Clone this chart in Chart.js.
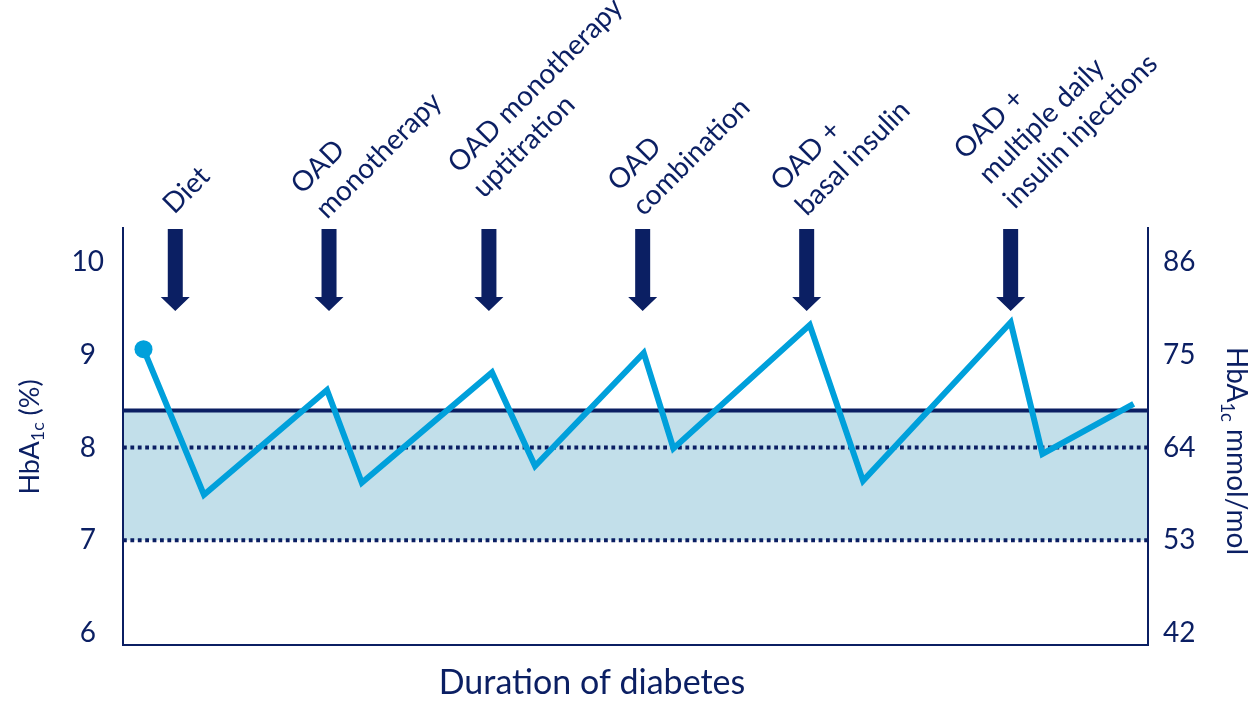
<!DOCTYPE html>
<html>
<head>
<meta charset="utf-8">
<script src="https://cdn.jsdelivr.net/npm/chart.js@4.4.1/dist/chart.umd.min.js"></script>
<style>
  html, body { margin: 0; padding: 0; background: #ffffff; }
  #wrap { width: 1256px; height: 702px; position: relative; }
</style>
</head>
<body>
<div id="wrap"><canvas id="c" width="1256" height="702"></canvas></div>
<script>
// HbA1c over the duration of type 2 diabetes, with each treatment step marked
const hba1cTicks = [6, 7, 8, 9, 10];
const mmolTicks = ['42', '53', '64', '75', '86'];
const timeX = [2.0, 7.9, 19.9, 23.3, 36.0, 40.2, 50.8, 53.7, 67.0, 72.2, 86.6, 89.7, 98.6];
const hba1cValues = [9.06, 7.49, 8.62, 7.62, 8.81, 7.80, 9.02, 7.99, 9.32, 7.64, 9.35, 7.93, 8.47];
const treatmentSteps = [
  ['Diet'],
  ['OAD', 'monotherapy'],
  ['OAD monotherapy', 'uptitration'],
  ['OAD', 'combination'],
  ['OAD +', 'basal insulin'],
  ['OAD +', 'multiple daily', 'insulin injections']
];
const stepX = [5.1, 20.1, 35.7, 50.7, 66.7, 86.6];
const upperThreshold = 8.4;
const targetLevels = [7, 8];
const xRange = [0, 100];

// styling / layout
const NAVY = '#0b1f63';
const CYAN = '#00a0db';
const BAND = '#c2dfea';
const FONT = 'Lato, "Open Sans", sans-serif';
const Y_MIN = 5.8706, Y_MAX = 10.3666;
const LABEL_SIZE = 28, LABEL_LINE = 35;
// offset of each step label (last line baseline start) from its arrow
const labelAnchors = [[-1, 215], [-2, 220], [-5, 199], [1, 217], [0, 217], [4, 210]];

function drawRich(ctx, parts, size) {
  const subSize = size * 0.66;
  let total = 0;
  parts.forEach(p => {
    ctx.font = `${p.sub ? subSize : size}px ${FONT}`;
    p.w = ctx.measureText(p.t).width;
    total += p.w;
  });
  let x = -total / 2;
  parts.forEach(p => {
    ctx.font = `${p.sub ? subSize : size}px ${FONT}`;
    ctx.fillText(p.t, x, p.sub ? size * 0.22 : 0);
    x += p.w;
  });
}

const annotate = {
  id: 'annotate',
  afterDraw(chart) {
    const { ctx, chartArea, scales } = chart;
    const xs = scales.x;
    ctx.save();
    ctx.fillStyle = NAVY;
    ctx.textAlign = 'left';
    ctx.textBaseline = 'alphabetic';

    stepX.forEach((v, i) => {
      const px = xs.getPixelForValue(v);
      const top = chartArea.top + 1, headY = top + 68, tip = top + 82;
      ctx.beginPath();
      ctx.moveTo(px - 7.5, top);
      ctx.lineTo(px + 7.5, top);
      ctx.lineTo(px + 7.5, headY);
      ctx.lineTo(px + 14.5, headY);
      ctx.lineTo(px, tip);
      ctx.lineTo(px - 14.5, headY);
      ctx.lineTo(px - 7.5, headY);
      ctx.closePath();
      ctx.fill();

      const a = labelAnchors[i];
      const lines = treatmentSteps[i];
      ctx.save();
      ctx.translate(px + a[0], a[1]);
      ctx.rotate(-Math.PI / 4);
      ctx.font = `${LABEL_SIZE}px ${FONT}`;
      lines.forEach((t, k) => ctx.fillText(t, 0, -(lines.length - 1 - k) * LABEL_LINE));
      ctx.restore();
    });

    // axis titles
    ctx.save();
    ctx.translate(38.5, 437);
    ctx.rotate(-Math.PI / 2);
    drawRich(ctx, [{ t: 'HbA' }, { t: '1c', sub: true }, { t: ' (%)' }], 27);
    ctx.restore();

    ctx.save();
    ctx.translate(1227, 451);
    ctx.rotate(Math.PI / 2);
    drawRich(ctx, [{ t: 'HbA' }, { t: '1c', sub: true }, { t: ' mmol/mol' }], 28);
    ctx.restore();

    ctx.save();
    ctx.translate(592, 694);
    drawRich(ctx, [{ t: 'Duration of diabetes' }], 34);
    ctx.restore();

    ctx.restore();
  }
};

const flat = y => xRange.map(x => ({ x, y }));
const fixedTicks = s => { s.ticks = hba1cTicks.map(v => ({ value: v })); };

new Chart(document.getElementById('c'), {
  type: 'line',
  data: {
    datasets: [
      {
        label: 'HbA1c',
        data: timeX.map((x, i) => ({ x, y: hba1cValues[i] })),
        borderColor: CYAN,
        borderWidth: 6,
        borderJoinStyle: 'miter',
        tension: 0,
        fill: false,
        pointRadius: c => (c.dataIndex === 0 ? 9 : 0),
        pointBackgroundColor: CYAN,
        pointBorderWidth: 0
      },
      {
        label: 'Upper threshold',
        data: flat(upperThreshold),
        borderColor: NAVY,
        borderWidth: 4,
        pointRadius: 0,
        fill: { value: targetLevels[0] },
        backgroundColor: BAND
      },
      {
        label: '8%',
        data: flat(targetLevels[1]),
        borderColor: NAVY,
        borderWidth: 4,
        borderDash: [3.8, 3.6],
        borderCapStyle: 'butt',
        pointRadius: 0,
        fill: false
      },
      {
        label: '7%',
        data: flat(targetLevels[0]),
        borderColor: NAVY,
        borderWidth: 4,
        borderDash: [3.8, 3.6],
        borderCapStyle: 'butt',
        pointRadius: 0,
        fill: false
      }
    ]
  },
  options: {
    responsive: false,
    animation: false,
    events: [],
    layout: { padding: { top: 228, left: 0, right: 0, bottom: 0 } },
    plugins: {
      legend: { display: false },
      tooltip: { enabled: false },
      filler: { drawTime: 'beforeDatasetsDraw' }
    },
    scales: {
      x: {
        type: 'linear',
        min: xRange[0],
        max: xRange[1],
        grid: { display: false },
        ticks: { display: false },
        border: { display: true, color: NAVY, width: 2, z: 1 },
        afterFit: s => { s.height = 57; }
      },
      y: {
        position: 'left',
        min: Y_MIN,
        max: Y_MAX,
        afterBuildTicks: fixedTicks,
        grid: { display: false },
        border: { display: true, color: NAVY, width: 2, z: 1 },
        ticks: { font: { family: FONT, size: 28 }, color: NAVY, padding: 11, crossAlign: 'center' },
        afterFit: s => { s.width = 123; }
      },
      y2: {
        position: 'right',
        min: Y_MIN,
        max: Y_MAX,
        afterBuildTicks: fixedTicks,
        grid: { display: false },
        border: { display: true, color: NAVY, width: 2, z: 1 },
        ticks: {
          font: { family: FONT, size: 28 },
          color: NAVY,
          padding: 7,
          crossAlign: 'center',
          callback: (v, i) => mmolTicks[i]
        },
        afterFit: s => { s.width = 108; }
      }
    }
  },
  plugins: [annotate]
});
</script>
</body>
</html>
